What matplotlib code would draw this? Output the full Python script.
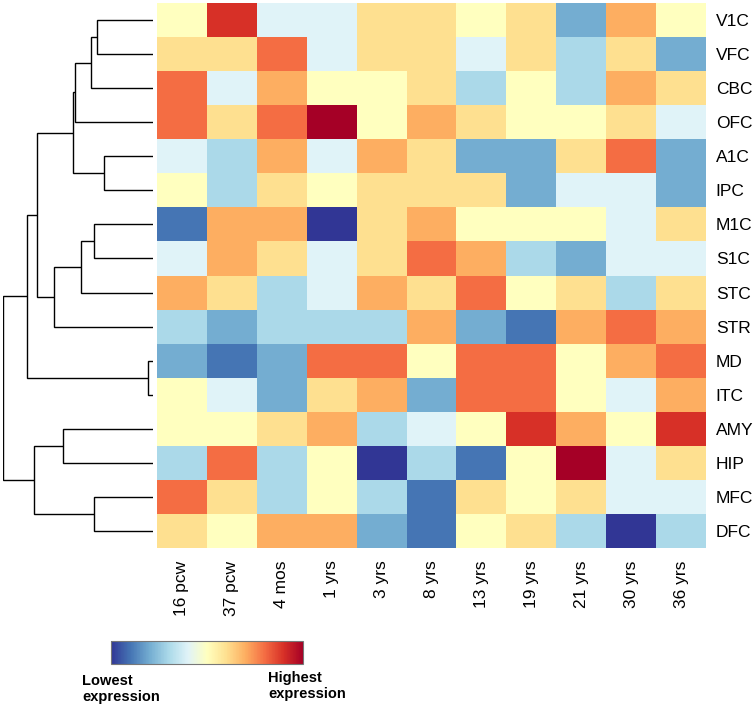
import numpy as np
import matplotlib
matplotlib.use("Agg")
import matplotlib.pyplot as plt
from matplotlib.colors import ListedColormap, BoundaryNorm
from matplotlib.cm import ScalarMappable

plt.rcParams['font.family'] = ['Liberation Sans', 'DejaVu Sans']

regions = ["V1C", "VFC", "CBC", "OFC", "A1C", "IPC", "M1C", "S1C", "STC", "STR",
           "MD", "ITC", "AMY", "HIP", "MFC", "DFC"]
ages = ["16 pcw", "37 pcw", "4 mos", "1 yrs", "3 yrs", "8 yrs", "13 yrs", "19 yrs",
        "21 yrs", "30 yrs", "36 yrs"]

# expression level (0 = lowest, 10 = highest)
V1C = [5, 9, 4, 4, 6, 6, 5, 6, 2, 7, 5]
VFC = [6, 6, 8, 4, 6, 6, 4, 6, 3, 6, 2]
CBC = [8, 4, 7, 5, 5, 6, 3, 5, 3, 7, 6]
OFC = [8, 6, 8, 10, 5, 7, 6, 5, 5, 6, 4]
A1C = [4, 3, 7, 4, 7, 6, 2, 2, 6, 8, 2]
IPC = [5, 3, 6, 5, 6, 6, 6, 2, 4, 4, 2]
M1C = [1, 7, 7, 0, 6, 7, 5, 5, 5, 4, 6]
S1C = [4, 7, 6, 4, 6, 8, 7, 3, 2, 4, 4]
STC = [7, 6, 3, 4, 7, 6, 8, 5, 6, 3, 6]
STR = [3, 2, 3, 3, 3, 7, 2, 1, 7, 8, 7]
MD = [2, 1, 2, 8, 8, 5, 8, 8, 5, 7, 8]
ITC = [5, 4, 2, 6, 7, 2, 8, 8, 5, 4, 7]
AMY = [5, 5, 6, 7, 3, 4, 5, 9, 7, 5, 9]
HIP = [3, 8, 3, 5, 0, 3, 1, 5, 10, 4, 6]
MFC = [8, 6, 3, 5, 3, 1, 6, 5, 6, 4, 4]
DFC = [6, 5, 7, 7, 2, 1, 5, 6, 3, 0, 3]

data = np.array([V1C, VFC, CBC, OFC, A1C, IPC, M1C, S1C, STC, STR,
                 MD, ITC, AMY, HIP, MFC, DFC])

# dendrogram merges: (child a, child b, height); leaves 0..15, new nodes from 16
merges = [
    (0, 1, 0.37), (16, 2, 0.41), (17, 3, 0.52), (4, 5, 0.325), (18, 19, 0.53),
    (6, 7, 0.39), (21, 8, 0.48), (22, 9, 0.66), (20, 23, 0.77), (10, 11, 0.03),
    (24, 25, 0.84), (12, 13, 0.60), (14, 15, 0.39), (27, 28, 0.79), (26, 29, 1.0),
]

colors11 = ["#313695", "#4575b4", "#74add1", "#abd9e9", "#e0f3f8", "#ffffbf",
            "#fee090", "#fdae61", "#f46d43", "#d73027", "#a50026"]
cmap = ListedColormap(colors11)
norm = BoundaryNorm(np.arange(-0.5, 11.5, 1), cmap.N)

W, H = 755, 709
fig = plt.figure(figsize=(W / 100, H / 100), dpi=100)

def fax(x0, y0, x1, y1):
    return fig.add_axes([x0 / W, 1 - y1 / H, (x1 - x0) / W, (y1 - y0) / H])

hx0, hy0, hx1, hy1 = 157, 3, 706, 548
ax = fax(hx0, hy0, hx1, hy1)
nr, nc = data.shape
ax.pcolormesh(np.arange(nc + 1) - 0.5, np.arange(nr + 1) - 0.5, data,
              cmap=cmap, norm=norm, edgecolors='none', antialiased=False)
ax.set_xlim(-0.5, nc - 0.5)
ax.set_ylim(nr - 0.5, -0.5)
for s in ax.spines.values():
    s.set_visible(False)
ax.yaxis.tick_right()
ax.set_yticks(range(nr))
ax.set_yticklabels(regions, fontsize=12.5)
ax.set_xticks(range(nc))
ax.set_xticklabels(ages, rotation=90, fontsize=12.5)
ax.tick_params(axis='y', length=0, pad=7)
ax.tick_params(axis='x', length=0, pad=9)

# dendrogram
dax = fax(3, hy0, 153, hy1)
pos = {i: float(i) for i in range(nr)}
hgt = {i: 0.0 for i in range(nr)}
for k, (a, b, h) in enumerate(merges):
    nid = nr + k
    ya, yb = pos[a], pos[b]
    dax.plot([hgt[a], h, h, hgt[b]], [ya, ya, yb, yb], color='black', lw=1.0,
             solid_joinstyle='miter', solid_capstyle='butt')
    pos[nid] = (ya + yb) / 2
    hgt[nid] = h
dax.set_xlim(1.0, 0.0)
dax.set_ylim(nr - 0.5, -0.5)
dax.axis('off')

# colorbar
cax = fax(111, 641, 303, 664)
sm = ScalarMappable(cmap=plt.get_cmap('RdYlBu_r'), norm=plt.Normalize(0, 10))
cb = fig.colorbar(sm, cax=cax, orientation='horizontal')
cb.set_ticks([])
cb.outline.set_edgecolor('#777777')
cb.outline.set_linewidth(0.8)

fig.text(82 / W, 1 - 674 / H, "Lowest\nexpression", fontsize=10.5, fontweight='bold',
         ha='left', va='top', linespacing=1.2)
fig.text(268 / W, 1 - 671 / H, "Highest\nexpression", fontsize=10.5, fontweight='bold',
         ha='left', va='top', linespacing=1.2)

fig.savefig("out.png", dpi=100)
